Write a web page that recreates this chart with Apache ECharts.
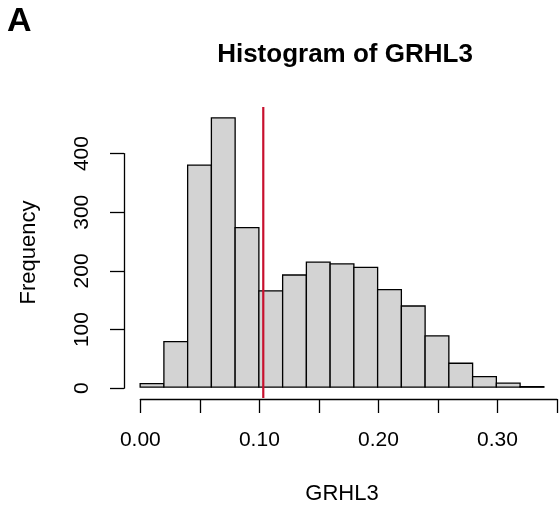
<!DOCTYPE html>
<html>
<head>
<meta charset="utf-8">
<script src="https://cdn.jsdelivr.net/npm/echarts@6/dist/echarts.min.js"></script>
<style>
html,body{margin:0;padding:0;background:#fff;}
#chart{width:560px;height:510px;}
</style>
</head>
<body>
<div id="chart"></div>
<script>
// ---- data ----
var binBreaks = [0.00,0.02,0.04,0.06,0.08,0.10,0.12,0.14,0.16,0.18,0.20,0.22,0.24,0.26,0.28,0.30,0.32,0.34];
var counts = [6,78,380,461,273,165,192,214,211,205,167,139,88,41,18,7,1];
var markerValue = [0.1037];
var xTicks = [0.00,0.05,0.10,0.15,0.20,0.25,0.30,0.35];
var xTickLabels = ['0.00','','0.10','','0.20','','0.30',''];
var yTicks = [0,100,200,300,400];
var titleText = 'Histogram of GRHL3';
var xName = 'GRHL3';
var yName = 'Frequency';
var panelLetter = 'A';

// ---- layout ----
var FONT = '"Liberation Sans", Arial, Helvetica, sans-serif';
var G0 = {left:124, top:107, width:440.6, height:292};
var xLo = binBreaks[0], xHi = binBreaks[binBreaks.length-1];
var xPad = 0.04*(xHi-xLo);
var yMaxC = Math.max.apply(null, counts);
var yPad = 0.04*yMaxC;
var xmin0 = xLo - xPad, xmax0 = xHi + xPad;
var ymin0 = -yPad, ymax0 = yMaxC + yPad;
function px(v){ return G0.left + (v - xmin0)/(xmax0 - xmin0)*G0.width; }
function py(v){ return G0.top + (ymax0 - v)/(ymax0 - ymin0)*G0.height; }
var xA0 = xTicks[0], xA1 = xTicks[xTicks.length-1];
var yA0 = yTicks[0], yA1 = yTicks[yTicks.length-1];
var G1 = {left:px(xA0), width:px(xA1)-px(xA0), top:G0.top, height:G0.height};
var G2 = {left:G0.left, width:100, top:py(yA1), height:py(yA0)-py(yA1)};

var histData = counts.map(function(c,i){ return [binBreaks[i], binBreaks[i+1], c]; });
var vlineData = [[markerValue[0], ymin0], [markerValue[0], ymax0]];

var chart = echarts.init(document.getElementById('chart'), null, {renderer:'canvas'});
var axisStyle = {color:'#000', width:1.3};
var option = {
  animation:false,
  backgroundColor:'#fff',
  textStyle:{fontFamily:FONT},
  title:{text:titleText, left:340, textAlign:'center', top:37,
    textStyle:{fontFamily:FONT, fontWeight:'bold', fontSize:26, color:'#000'}},
  graphic:[{type:'text', left:7, top:5, style:{text:panelLetter, font:'bold 34px '+FONT, fill:'#000'}}],
  grid:[
    {left:G0.left, top:G0.top, width:G0.width, height:G0.height, containLabel:false},
    {left:G1.left, top:G1.top, width:G1.width, height:G1.height, containLabel:false},
    {left:G2.left, top:G2.top, width:G2.width, height:G2.height, containLabel:false}
  ],
  xAxis:[
    {gridIndex:0, type:'value', min:xmin0, max:xmax0, axisLine:{show:false}, axisTick:{show:false},
     axisLabel:{show:false}, splitLine:{show:false},
     name:xName, nameLocation:'middle', nameGap:85,
     nameTextStyle:{fontFamily:FONT, fontSize:22, color:'#000'}},
    {gridIndex:1, type:'value', min:xA0, max:xA1, interval:xTicks[1]-xTicks[0],
     axisLine:{show:true, lineStyle:axisStyle}, axisTick:{show:true, length:14, lineStyle:axisStyle},
     splitLine:{show:false},
     axisLabel:{show:true, margin:31, fontFamily:FONT, fontSize:21, color:'#000',
       formatter:function(v){ var i = Math.round((v - xA0)/(xTicks[1]-xTicks[0])); return xTickLabels[i] || ''; }}},
    {gridIndex:2, type:'value', show:false}
  ],
  yAxis:[
    {gridIndex:0, type:'value', min:ymin0, max:ymax0, axisLine:{show:false}, axisTick:{show:false},
     axisLabel:{show:false}, splitLine:{show:false},
     name:yName, nameLocation:'middle', nameGap:84, nameRotate:90,
     nameTextStyle:{fontFamily:FONT, fontSize:22, color:'#000'}},
    {gridIndex:1, type:'value', show:false},
    {gridIndex:2, type:'value', min:yA0, max:yA1, interval:yTicks[1]-yTicks[0],
     axisLine:{show:true, lineStyle:axisStyle}, axisTick:{show:true, length:14, lineStyle:axisStyle},
     splitLine:{show:false},
     axisLabel:{show:true, rotate:90, margin:31, fontFamily:FONT, fontSize:21, color:'#000'}}
  ],
  series:[
    {type:'custom', xAxisIndex:0, yAxisIndex:0, clip:false,
     data:histData,
     encode:{x:[0,1], y:2},
     renderItem:function(params, api){
       var p0 = api.coord([api.value(0), api.value(2)]);
       var p1 = api.coord([api.value(1), 0]);
       return {type:'rect', shape:{x:p0[0], y:p0[1], width:p1[0]-p0[0], height:p1[1]-p0[1]},
         style:{fill:'#D3D3D3', stroke:'#000', lineWidth:1.3}};
     }
    },
    {type:'line', xAxisIndex:0, yAxisIndex:0, data:vlineData, symbol:'none', silent:true,
     lineStyle:{color:'#C8102E', width:2.2}, z:5}
  ]
};
chart.setOption(option);
</script>
</body>
</html>
